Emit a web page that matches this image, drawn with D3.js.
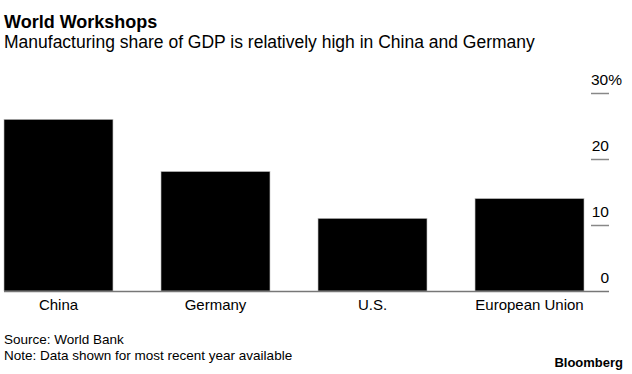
<!DOCTYPE html>
<html>
<head>
<meta charset="utf-8">
<script src="https://cdn.jsdelivr.net/npm/d3@7.9.0/dist/d3.min.js"></script>
<style>
  body { margin: 0; background: #fff; }
  svg { display: block; font-family: "Liberation Sans", Arial, sans-serif; }
</style>
</head>
<body>
<svg id="chart" width="632" height="374"></svg>
<script>
const categories = ['China', 'Germany', 'U.S.', 'European Union'];
const values = [26.0, 18.1, 11.0, 14.0];
const yTicks = [0, 10, 20, 30];

const svg = d3.select('#chart');

const x = d3.scaleBand()
  .domain(categories)
  .range([4, 584])
  .paddingInner(0.306)
  .paddingOuter(0);

const y = d3.scaleLinear()
  .domain([0, 30])
  .range([291, 93]);

// title block
svg.append('text')
  .attr('x', 4).attr('y', 28)
  .attr('font-size', 18).attr('font-weight', 'bold')
  .attr('fill', '#000')
  .text('World Workshops');

svg.append('text')
  .attr('x', 4).attr('y', 48)
  .attr('font-size', 17.5)
  .attr('fill', '#000')
  .text('Manufacturing share of GDP is relatively high in China and Germany');

// bars
svg.append('g')
  .selectAll('rect')
  .data(values)
  .join('rect')
  .attr('x', (d, i) => x(categories[i]))
  .attr('y', d => y(d))
  .attr('width', x.bandwidth())
  .attr('height', d => y(0) - y(d))
  .attr('fill', '#000')
  .attr('stroke', '#bbb')
  .attr('stroke-width', 0.6);

// right axis: short tick lines with labels sitting above them
const axis = svg.append('g');
axis.selectAll('line')
  .data(yTicks.filter(d => d > 0))
  .join('line')
  .attr('x1', 591).attr('x2', 609)
  .attr('y1', d => y(d) + 0.5).attr('y2', d => y(d) + 0.5)
  .attr('stroke', '#888')
  .attr('stroke-width', 1.5);

axis.selectAll('text')
  .data(yTicks)
  .join('text')
  .attr('x', d => d === 30 ? 591 : 609)
  .attr('y', d => y(d) - 8)
  .attr('font-size', 15.5)
  .attr('fill', '#000')
  .attr('text-anchor', d => d === 30 ? 'start' : 'end')
  .text(d => d === 30 ? d + '%' : d);

// baseline
svg.append('line')
  .attr('x1', 4).attr('x2', 609)
  .attr('y1', y(0) + 0.5).attr('y2', y(0) + 0.5)
  .attr('stroke', '#777')
  .attr('stroke-width', 1.5);

// category labels
svg.append('g')
  .selectAll('text')
  .data(categories)
  .join('text')
  .attr('x', d => x(d) + x.bandwidth() / 2)
  .attr('y', 310)
  .attr('font-size', 15)
  .attr('text-anchor', 'middle')
  .attr('fill', '#000')
  .text(d => d);

// footer
svg.append('text')
  .attr('x', 4).attr('y', 344)
  .attr('font-size', 13.5)
  .attr('fill', '#000')
  .text('Source: World Bank');

svg.append('text')
  .attr('x', 4).attr('y', 360)
  .attr('font-size', 13.5)
  .attr('fill', '#000')
  .text('Note: Data shown for most recent year available');

svg.append('text')
  .attr('x', 623).attr('y', 367)
  .attr('font-size', 13).attr('font-weight', 'bold')
  .attr('text-anchor', 'end')
  .attr('fill', '#000')
  .text('Bloomberg');
</script>
</body>
</html>
